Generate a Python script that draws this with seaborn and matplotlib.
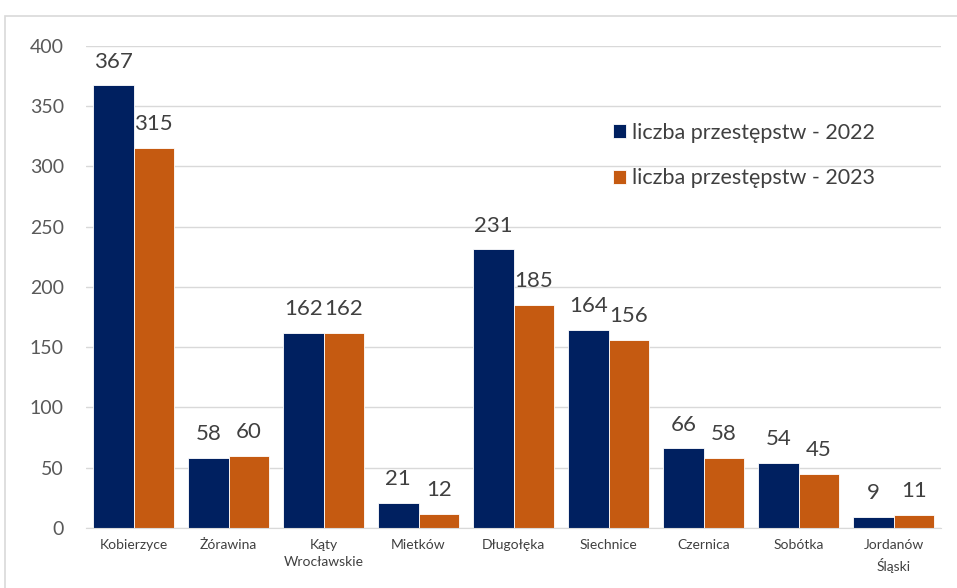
import matplotlib
matplotlib.use("Agg")
import matplotlib.pyplot as plt
import seaborn as sns
import pandas as pd
from matplotlib.patches import Rectangle

categories = ["Kobierzyce", "Żórawina", "Kąty\nWrocławskie", "Mietków", "Długołęka",
              "Siechnice", "Czernica", "Sobótka", "Jordanów\nŚląski"]
values_2022 = [367, 58, 162, 21, 231, 164, 66, 54, 9]
values_2023 = [315, 60, 162, 12, 185, 156, 58, 45, 11]
series_names = ["liczba przestępstw - 2022", "liczba przestępstw - 2023"]
colors = ["#002060", "#C55A11"]

df = pd.DataFrame({
    "cat": categories * 2,
    "val": values_2022 + values_2023,
    "series": [series_names[0]] * len(categories) + [series_names[1]] * len(categories),
})

sns.set_style("white")
plt.rcParams['font.family'] = ['Lato', 'DejaVu Sans']

W, H = 957, 588
fig = plt.figure(figsize=(W / 100, H / 100), dpi=100)
ax = fig.add_axes([86 / W, (H - 528) / H, 855 / W, 482.3 / H])

sns.barplot(data=df, x="cat", y="val", hue="series", palette=colors, width=0.85,
            ax=ax, saturation=1, edgecolor="white", linewidth=0.6)

for cont in ax.containers:
    ax.bar_label(cont, padding=10, fontsize=16, color="#404040")

ax.set_ylim(0, 400)
ax.set_yticks(range(0, 401, 50))
ax.yaxis.grid(True, color="#D9D9D9", linewidth=1)
ax.set_axisbelow(True)
for s in ["top", "right", "left"]:
    ax.spines[s].set_visible(False)
ax.spines["bottom"].set_color("#D9D9D9")
ax.tick_params(axis="y", labelsize=14, labelcolor="#595959", length=0, pad=16)
ax.tick_params(axis="x", labelsize=10, labelcolor="#404040", length=0, pad=8)
for lbl in ax.get_xticklabels():
    lbl.set_linespacing(1.5)
ax.set_xlabel("")
ax.set_ylabel("")
ax.set_xlim(-0.5, len(categories) - 0.5)

leg = ax.legend(loc="center left", bbox_to_anchor=(613 / W, 1 - 155.5 / H),
                bbox_transform=fig.transFigure, frameon=False, borderpad=0,
                borderaxespad=0, fontsize=15.5, labelspacing=1.2, handlelength=0.6,
                handleheight=0.6, handletextpad=0.3, labelcolor="#404040")

fig.patches.append(Rectangle((5 / W, -0.05), 1.1, 1 - 16 / H + 0.05,
                             transform=fig.transFigure, fill=False,
                             edgecolor="#D9D9D9", linewidth=1.2))

fig.savefig("out.png", dpi=100)
